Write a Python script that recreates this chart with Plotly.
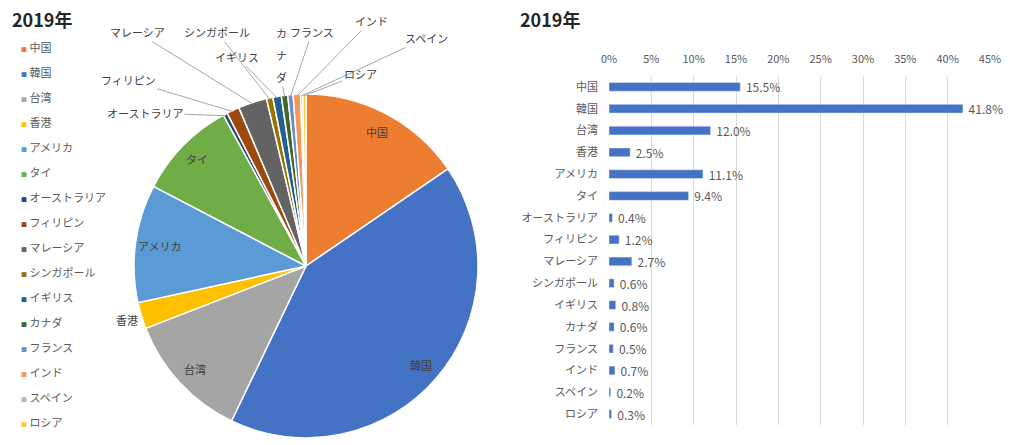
import math
import plotly.graph_objects as go

# ---------------- data ----------------
countries = ["中国", "韓国", "台湾", "香港", "アメリカ", "タイ", "オーストラリア", "フィリピン",
             "マレーシア", "シンガポール", "イギリス", "カナダ", "フランス", "インド", "スペイン", "ロシア"]
shares = [15.5, 41.8, 12.0, 2.5, 11.1, 9.4, 0.4, 1.2, 2.7, 0.6, 0.8, 0.6, 0.5, 0.7, 0.2, 0.3]
pct_ticks = [0, 5, 10, 15, 20, 25, 30, 35, 40, 45]
title_text = "2019年"

# ---------------- styles ----------------
colors = ["#ED7D31", "#4472C4", "#A5A5A5", "#FFC000", "#5B9BD5", "#70AD47",
          "#264478", "#9E480E", "#636363", "#997300", "#255E91", "#43682B",
          "#698ED0", "#F1975A", "#B7B7B7", "#FFCD33"]
FONT = "Noto Sans CJK JP"
W, H = 1024, 445
PCX, PCY, PR = 306, 266, 172          # pie centre / radius (px)

# label layout for pie labels
pie_label_layout = {
    "中国": ("r", 0.88), "韓国": ("r", 0.88), "台湾": ("r", 0.88), "香港": ("r", 1.09),
    "アメリカ": ("r", 0.86), "タイ": ("r", 0.89),
    "オーストラリア": ("at", (145, 113)), "フィリピン": ("at", (128, 80)),
    "マレーシア": ("at", (137, 32)), "シンガポール": ("at", (217, 32)),
    "イギリス": ("at", (237, 57)), "カナダ": ("vert", (281, 33)),
    "フランス": ("at", (312, 32)), "インド": ("at", (371, 21)),
    "スペイン": ("at", (426, 38)), "ロシア": ("at", (360, 74)),
}


def px(x):
    return x / W


def py(y):
    return 1 - y / H


fig = go.Figure()

fig.add_trace(go.Pie(
    labels=countries, values=shares, sort=False, direction="clockwise", rotation=0,
    marker=dict(colors=colors, line=dict(color="white", width=1.5)),
    textinfo="none", showlegend=False, hoverinfo="label+value", automargin=False,
    domain=dict(x=[px(PCX - PR), px(PCX + PR)], y=[py(PCY + PR), py(PCY - PR)]),
))

fig.add_trace(go.Bar(
    x=[s / 100 for s in shares], y=countries, orientation="h",
    marker=dict(color="#4472C4"), width=0.4,
    texttemplate=" %{x:.1%}", textposition="outside", constraintext="none",
    textfont=dict(family=FONT, size=12, color="#595959"),
    cliponaxis=False, showlegend=False,
))

annotations = []
# titles
for tx in (10, 518):
    annotations.append(dict(text="<b>" + title_text + "</b>", x=px(tx), y=py(19), xref="paper", yref="paper",
                            xanchor="left", yanchor="middle", showarrow=False,
                            font=dict(family=FONT, size=18, color="#262626")))

# legend (left column)
for i, (name, c) in enumerate(zip(countries, colors)):
    annotations.append(dict(
        text=f"<span style='color:{c};font-size:6px'>■</span> {name}",
        x=px(19), y=py(47 + 25 * i), xref="paper", yref="paper",
        xanchor="left", yanchor="middle", showarrow=False,
        font=dict(family=FONT, size=11, color="#595959")))

# pie labels
total = sum(shares)
cum = 0.0
for name, v in zip(countries, shares):
    th = 2 * math.pi * (cum + v / 2) / total
    cum += v
    kind, val = pie_label_layout[name]
    lab_font = dict(family=FONT, size=11, color="#404040")
    if kind == "r":
        x = PCX + val * PR * math.sin(th)
        y = PCY - val * PR * math.cos(th)
        annotations.append(dict(text=name, x=px(x), y=py(y), xref="paper", yref="paper",
                                xanchor="center", yanchor="middle",
                                showarrow=False, font=lab_font))
        continue
    hx = PCX + 0.99 * PR * math.sin(th)
    hy = PCY - 0.99 * PR * math.cos(th)
    lx, ly = val
    if kind == "vert":
        chars = list(name)
        for k, ch in enumerate(chars):
            cy = ly + 22 * k
            if k == len(chars) - 1:
                annotations.append(dict(text=ch, x=px(hx), y=py(hy), xref="paper", yref="paper",
                                        ax=lx - hx, ay=cy - hy, showarrow=True, arrowhead=0,
                                        arrowwidth=1, arrowcolor="#A6A6A6", standoff=0,
                                        xanchor="center", yanchor="middle", font=lab_font))
            else:
                annotations.append(dict(text=ch, x=px(lx), y=py(cy), xref="paper", yref="paper",
                                        xanchor="center", yanchor="middle",
                                        showarrow=False, font=lab_font))
        continue
    annotations.append(dict(text=name, x=px(hx), y=py(hy), xref="paper", yref="paper",
                            ax=lx - hx, ay=ly - hy, showarrow=True, arrowhead=0,
                            arrowwidth=1, arrowcolor="#A6A6A6", standoff=0,
                            xanchor="center", yanchor="middle", font=lab_font))

fig.update_layout(
    width=W, height=H, autosize=False,
    margin=dict(l=0, r=0, t=0, b=0, pad=0, autoexpand=False),
    paper_bgcolor="white", plot_bgcolor="white",
    font=dict(family=FONT, size=11, color="#595959"),
    annotations=annotations,
    bargap=0.6,
    xaxis=dict(domain=[px(609), px(990)], range=[0, 0.45], side="top", automargin=False,
               tickvals=[t / 100 for t in pct_ticks], ticktext=[f"{t}%" for t in pct_ticks],
               showgrid=True, gridcolor="#D9D9D9", gridwidth=1, zeroline=False, showline=False,
               ticks="", ticklabelstandoff=10, fixedrange=True,
               tickfont=dict(family=FONT, size=11, color="#595959")),
    yaxis=dict(domain=[py(425), py(76)], autorange="reversed", showgrid=False, automargin=False,
               zeroline=False, showline=False, ticks="", ticklabelstandoff=10, fixedrange=True,
               tickfont=dict(family=FONT, size=11, color="#595959")),
)

fig.write_html("out.html", config={"displayModeBar": False, "responsive": False},
               post_script="document.body.style.margin='0';document.body.style.overflow='hidden';")
